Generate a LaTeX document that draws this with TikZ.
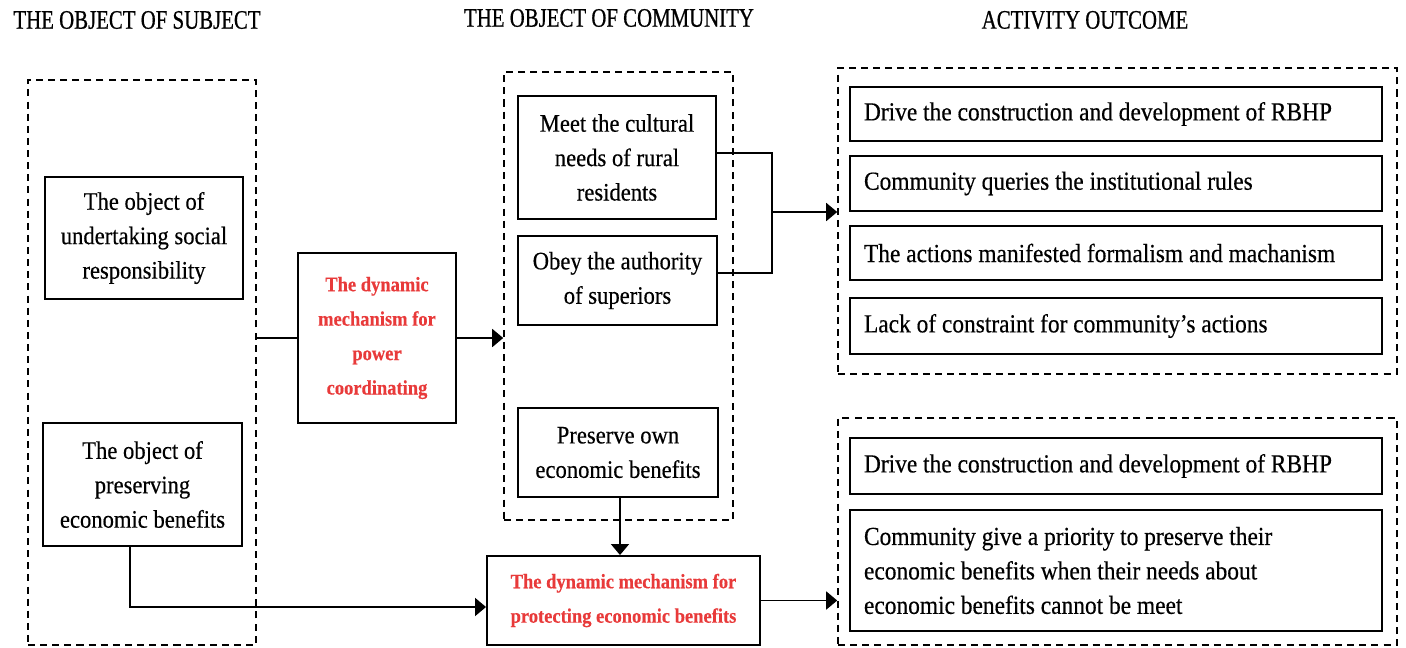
\documentclass[tikz,border=0pt]{standalone}
\usepackage{fontspec}
\setmainfont{Liberation Serif}[FakeStretch=0.9, FakeBold=0.4]
\newfontfamily\headfont{Liberation Serif}[FakeStretch=0.78, FakeBold=0.6]
\usetikzlibrary{arrows.meta}
\definecolor{mechred}{RGB}{232,58,58}
\newlength{\unitpx}
\setlength{\unitpx}{0.02cm}
\tikzset{
  headtext/.style={font=\headfont\fontsize{15.2}{18}\selectfont, inner sep=0pt},
  groupbox/.style={draw, line width=0.9pt, dash pattern=on 4pt off 2.9pt},
  itembox/.style={draw, line width=0.8pt, align=flush center, inner sep=0pt,
    font=\fontsize{14.3}{19.6}\selectfont},
  mechbox/.style={draw, line width=1.1pt, align=flush center, inner sep=0pt, text=mechred,
    font=\bfseries\fontsize{11.7}{19.6}\selectfont},
  outbox/.style={draw, line width=0.7pt, align=flush left, text width=504\unitpx,
    inner xsep=14\unitpx, inner ysep=0pt, minimum width=532\unitpx,
    font=\fontsize{14.8}{19.6}\selectfont},
  link/.style={line width=1pt},
  flow/.style={line width=1pt, -{Triangle[length=0.22cm, width=0.36cm]}}
}
\begin{document}
\begin{tikzpicture}[x=0.02cm, y=-0.02cm]
  \useasboundingbox (0,0) rectangle (1406,647);

  %Column headings
  \node[headtext] (tsub) at (137,20) {THE OBJECT OF SUBJECT};
  \node[headtext] (tcom) at (609,18) {THE OBJECT OF COMMUNITY};
  \node[headtext] (tout) at (1085,20) {ACTIVITY OUTCOME};

  %Dashed groups
  \node[groupbox, minimum width=228\unitpx, minimum height=565\unitpx] (subj) at (142,362.5) {};
  \node[groupbox, minimum width=229\unitpx, minimum height=448\unitpx] (comm) at (618.5,296) {};
  \node[groupbox, minimum width=559\unitpx, minimum height=306\unitpx] (outA) at (1117.5,221) {};
  \node[groupbox, minimum width=559\unitpx, minimum height=227\unitpx] (outB) at (1117.5,531.5) {};

  %Subject objects
  \node[itembox, line width=0.6pt, minimum width=198\unitpx, minimum height=122\unitpx] (osoc) at (144,238)
    {The object of\\ undertaking social\\ responsibility};
  \node[itembox, line width=0.6pt, minimum width=199\unitpx, minimum height=123\unitpx] (opre) at (142.5,484.5)
    {The object of\\ preserving\\ economic benefits};

  %Community objects
  \node[itembox, minimum width=198\unitpx, minimum height=123\unitpx] (meet) at (617,157.5)
    {Meet the cultural\\ needs of rural\\ residents};
  \node[itembox, minimum width=199\unitpx, minimum height=89\unitpx] (obey) at (617.5,280.5)
    {Obey the authority\\ of superiors};
  \node[itembox, minimum width=200\unitpx, minimum height=89\unitpx] (pres) at (618,452.5)
    {Preserve own\\ economic benefits};

  %Mechanisms
  \node[mechbox, minimum width=158\unitpx, minimum height=170\unitpx] (power) at (377,338)
    {The dynamic\\ mechanism for\\ power\\ coordinating};
  \node[mechbox, minimum width=273\unitpx, minimum height=89\unitpx] (protect) at (623.5,600.5)
    {The dynamic mechanism for\\ protecting economic benefits};

  %Outcomes
  \foreach \name/\y/\h/\descr in {a1/114/54/{Drive the construction and development of RBHP},
      a2/183.5/55/{Community queries the institutional rules},
      a3/253/54/{The actions manifested formalism and machanism},
      a4/326/56/{Lack of constraint for community’s actions},
      b1/466/56/{Drive the construction and development of RBHP},
      b2/570.5/121/{Community give a priority to preserve their\\ economic benefits when their needs about\\ economic benefits cannot be meet}}
    \node[outbox, minimum height=\h\unitpx] (\name) at (1116,\y) {\descr};

  %Connectors
  \draw[link] (subj.east |- power.west) -- (power.west);
  \draw[flow] (power.east) -- (comm.west |- power.east);
  \coordinate (jtop) at (772,153);
  \coordinate (jbot) at (772,273);
  \coordinate (jmid) at (772,212);
  \draw[link] (jtop -| meet.east) -- (jtop) -- (jbot) -- (jbot -| obey.east);
  \draw[flow] (jmid) -- (jmid -| outA.west);
  \draw[flow] ([xshift=2\unitpx]pres.south) -- ([xshift=2\unitpx]pres.south |- protect.north);
  \draw[flow] ([xshift=-12.5\unitpx]opre.south) |- ([yshift=-6.5\unitpx]protect.west);
  \draw[flow] (protect.east) -- (protect.east -| outB.west);
\end{tikzpicture}
\end{document}
